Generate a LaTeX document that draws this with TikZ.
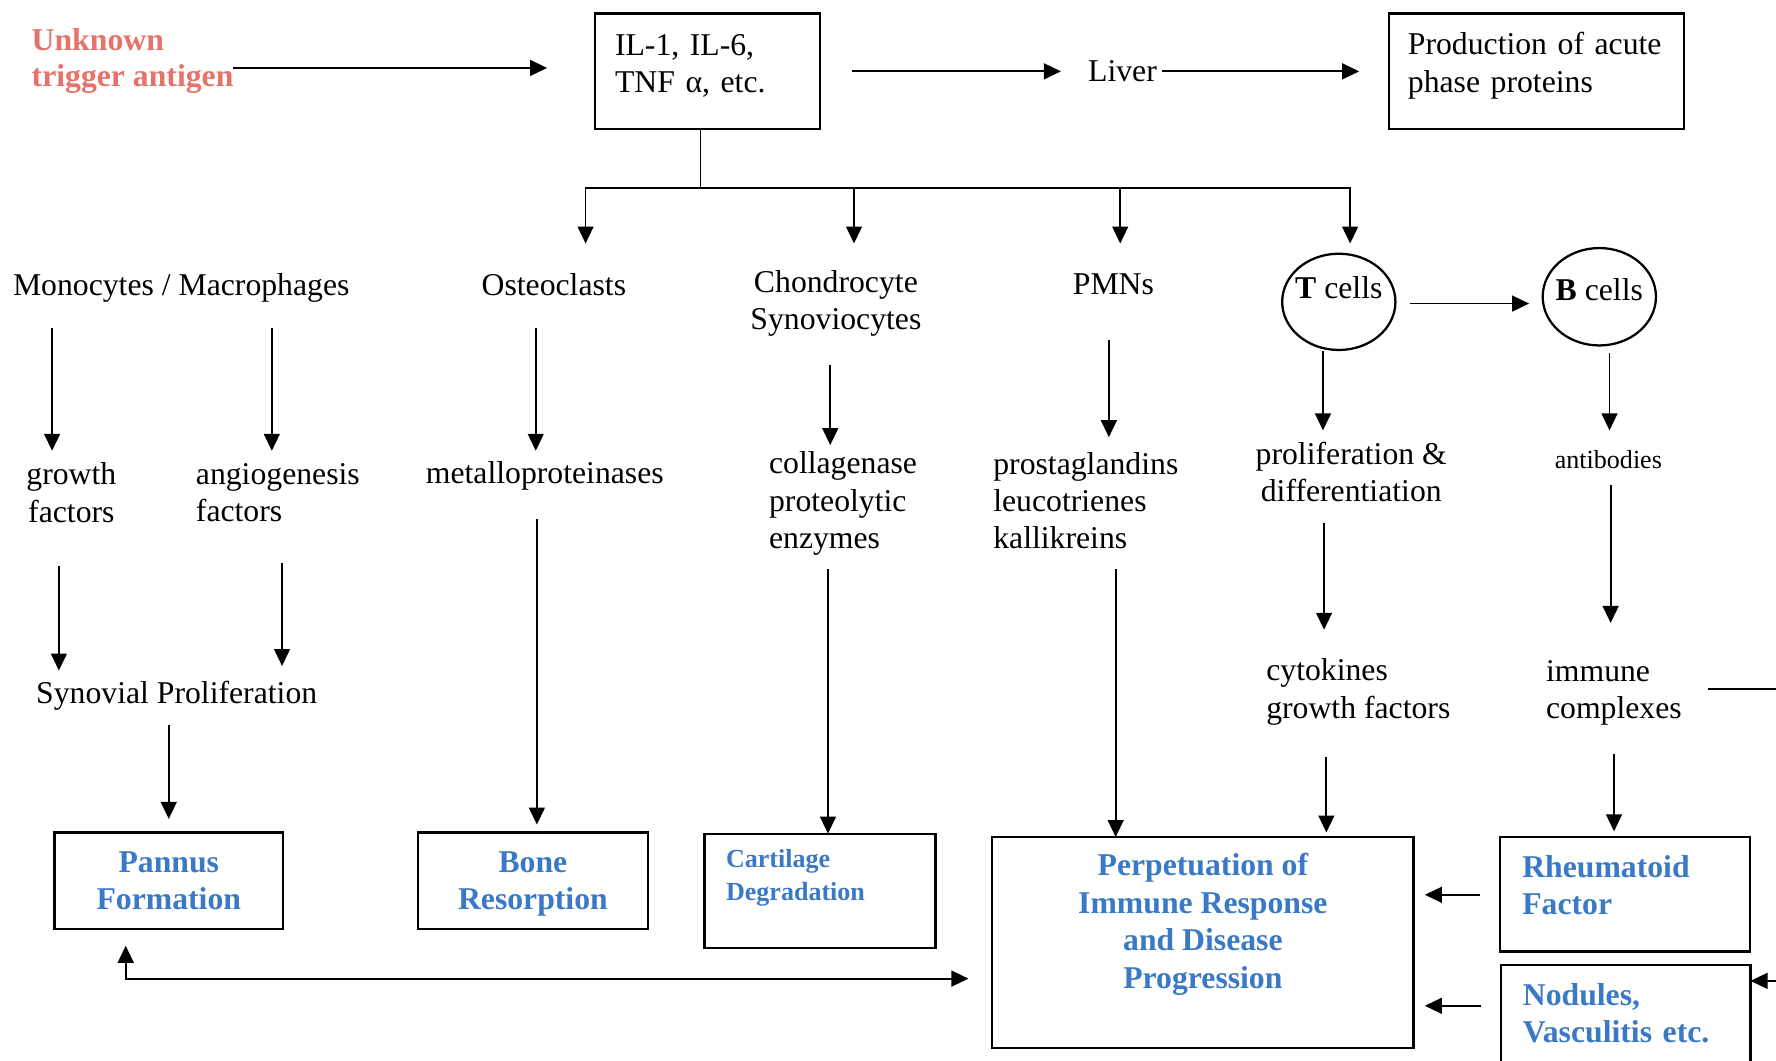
\documentclass[tikz,border=0pt]{standalone}
\usepackage{fontspec}
\setmainfont{Liberation Serif}
\usetikzlibrary{arrows.meta,calc,shapes.geometric}
\definecolor{salmon}{HTML}{E5736A}
\definecolor{blu}{HTML}{3A79C6}
\newcommand\xdepth[1]{\rule[-#1]{0pt}{0pt}}
\begin{document}
\begin{tikzpicture}[x=0.5pt,y=-0.5pt,
  every node/.style={inner sep=0pt, outer sep=0pt},
  tx/.style={font=\fontsize{14}{16.5}\selectfont},
  txsm/.style={font=\fontsize{11.5}{14}\selectfont},
  bl/.style={font=\fontsize{14}{16.5}\selectfont\bfseries, text=blu},
  bx/.style={draw, line width=1pt},
  cell/.style={ellipse, draw, line width=1pt, font=\fontsize{14}{16.5}\selectfont, inner xsep=-1.6pt, minimum width=50pt},
  lin/.style={line width=0.8pt},
  arw/.style={line width=0.8pt, -{Triangle[length=7.5pt,width=7pt]}}]

\fill[white] (0,0) rectangle (1568,936);
\useasboundingbox (0,0) rectangle (1568,936);
\clip (0,0) rectangle (1568,936);

% top row
\node[anchor=west, align=left, font=\fontsize{14}{16}\selectfont\bfseries, text=salmon] (unk) at (28,54) {Unknown\\trigger antigen};
\node[bx, tx, align=left, text width=81.5pt, inner xsep=9pt, minimum height=51pt] (il) at (624.5,63) {IL-1, IL-6,\\TNF~α, etc.\xdepth{7pt}};
\node[tx] (liver) at (991,63) {Liver};
\node[bx, tx, align=left, text width=113.5pt, inner xsep=8.5pt, minimum height=51pt] (prod) at (1356.5,63) {Production~of~acute\\phase~proteins\xdepth{8pt}};

% second row
\node[tx] (mono) at (160,254) {Monocytes / Macrophages};
\node[tx] (osteo) at (489,251) {Osteoclasts};
\node[tx, align=center] (chond) at (738,268) {Chondrocyte\\Synoviocytes};
\node[tx] (pmn) at (983,251) {PMNs};
\node[cell, minimum height=42.5pt] (tcell) at (1182,266.5) {\textbf{T} cells\xdepth{12.5pt}};
\node[cell, minimum height=43pt] (bcell) at (1412,262) {\textbf{B} cells\xdepth{6pt}};

% third row
\node[tx, align=center] (gf) at (63,435) {growth\\factors};
\node[tx, align=left, anchor=west] (af) at (173,435) {angiogenesis\\factors};
\node[tx] (metal) at (481,420) {metalloproteinases};
\node[tx, align=left, anchor=west] (coll) at (679,444.5) {collagenase\\proteolytic\\enzymes};
\node[tx, align=left, anchor=west] (prost) at (877,442) {prostaglandins\\leucotrienes\\kallikreins};
\node[tx, align=center] (prolif) at (1193,416.5) {proliferation \&\\differentiation};
\node[txsm] (antib) at (1420,406) {antibodies};

% fourth row
\node[tx] (syn) at (156,614) {Synovial Proliferation};
\node[tx, align=left, anchor=west] (cyto) at (1118,611) {cytokines\\growth factors};
\node[tx, align=left, anchor=west] (immune) at (1365,611.5) {immune\\complexes};

% outcome boxes
\node[bx, bl, align=center, minimum width=101pt, minimum height=42.5pt] (pannus) at (149,777.5) {Pannus\\Formation};
\node[bx, bl, align=center, minimum width=101.5pt, minimum height=42.5pt, text depth=0pt] (bone) at (470.5,777.5) {Bone\\Resorption};
\node[bx, font=\fontsize{11.5}{14.5}\selectfont\bfseries, text=blu, align=left, text width=83pt, inner xsep=9.5pt, minimum height=50.5pt] (cart) at (724,786.5) {Cartilage\\Degradation\xdepth{14pt}};
\node[bx, bl, align=center, minimum width=186pt, minimum height=93pt] (perp) at (1062,832) {Perpetuation of\\Immune Response\\and Disease\\Progression\xdepth{19pt}};
\node[bx, bl, align=left, text width=90.5pt, inner xsep=10pt, minimum height=50.5pt] (rheum) at (1434.5,789.5) {Rheumatoid\\Factor\xdepth{8pt}};
\node[bx, bl, align=left, text width=91pt, inner xsep=9.5pt, minimum height=47pt] (nod) at (1435.5,899) {Nodules,\\Vasculitis~etc.\xdepth{4.5pt}};

\coordinate (edgeA) at (1572,608);
\coordinate (edgeB) at (1572,866);

% top connectors
\draw[arw] ($(unk.east)+(0,6)$) -- ($(il.west)+(-42,-3)$);
\draw[arw] ($(il.east)+(28,0)$) -- ($(liver.west)+(-24,0)$);
\draw[arw] ($(liver.east)+(5,0)$) -- ($(prod.west)+(-26,0)$);
\coordinate (hub) at ($(il.south)+(-6,52)$);
\draw[lin] ($(il.south)+(-6,0)$) -- (hub);
\draw[arw] (hub) -| ($(osteo.center)+(28,-36)$);
\draw[arw] (hub) -| ($(chond.center)+(16,-53)$);
\draw[arw] (hub) -| ($(pmn.center)+(6,-36)$);
\draw[arw] (hub) -| ($(tcell.center)+(10,-51.5)$);

% columns
\draw[arw] ($(mono.center)+(-114,36)$) -- ($(gf.center)+(-17,-37)$);
\draw[arw] ($(mono.center)+(80,36)$) -- ($(af.west)+(67,-37)$);
\draw[arw] ($(gf.center)+(-11,65)$) -- ($(syn.center)+(-104,-22)$);
\draw[arw] ($(af.west)+(76,62)$) -- ($(syn.center)+(93,-26)$);
\draw[arw] ($(syn.center)+(-7,26)$) -- ($(pannus.north)+(0,-12)$);
\draw[arw] ($(osteo.center)+(-16,39)$) -- ($(metal.center)+(-8,-22)$);
\draw[arw] ($(metal.center)+(-7,38)$) -- ($(bone.north)+(3.5,-7)$);
\draw[arw] ($(chond.center)+(-5,54)$) -- ($(coll.west)+(54,-51.5)$);
\draw[arw] ($(coll.west)+(52,57.5)$) -- ($(cart.north)+(7,0)$);
\draw[arw] ($(pmn.center)+(-4,49)$) -- ($(prost.west)+(102,-56)$);
\draw[arw] ($(prost.west)+(108,60)$) -- ($(perp.north)+(-77,0)$);
\draw[arw] ($(tcell.south)+(-14,1)$) -- ($(prolif.center)+(-25,-36.5)$);
\draw[arw] ($(prolif.center)+(-24,45.5)$) -- ($(cyto.west)+(51,-55)$);
\draw[arw] ($(cyto.west)+(53,57)$) -- ($(perp.north)+(109,-4)$);
\draw[arw] ($(tcell.east)+(13,1.5)$) -- ($(bcell.west)+(-12,6)$);
\draw[arw] ($(bcell.south)+(9,7)$) -- ($(antib.center)+(1,-26)$);
\draw[arw] ($(antib.center)+(2,22)$) -- ($(immune.west)+(57,-61.5)$);
\draw[arw] ($(immune.west)+(60,54.5)$) -- ($(rheum.north)+(-9.5,-5)$);
\draw[lin] ($(immune.west)+(143,-3.5)$) -- (edgeA);
\draw[arw] (edgeB) -- ($(nod.east)+(0,-33)$);
\draw[arw] ($(rheum.west)+(-17,0.5)$) -- ($(perp.east)+(10,-42)$);
\draw[arw] ($(nod.west)+(-18,-11)$) -- ($(perp.east)+(10,56)$);
\draw[lin, {Triangle[length=7.5pt,width=7pt]}-{Triangle[length=7.5pt,width=7pt]}] ($(pannus.south)+(-38,15)$) |- ($(perp.west)+(-21,32)$);
\end{tikzpicture}
\end{document}
